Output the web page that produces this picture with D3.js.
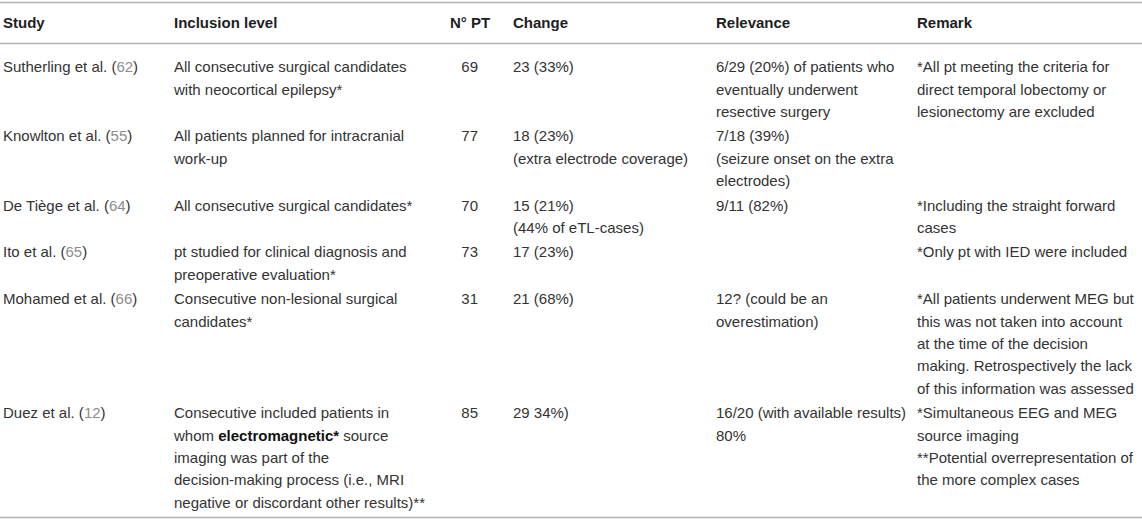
<!DOCTYPE html>
<html>
<head>
<meta charset="utf-8">
<script src="https://cdn.jsdelivr.net/npm/d3@7"></script>
<style>
  body { margin: 0; background: #fff; }
  svg { display: block; font-family: 'Liberation Sans', Arial, sans-serif; font-size: 15px; }
</style>
</head>
<body>
<svg width="1142" height="520"></svg>
<script>
// Table content, one array per column
const columns = ['Study', 'Inclusion level', 'N° PT', 'Change', 'Relevance', 'Remark']
const studies = ['Sutherling et al.', 'Knowlton et al.', 'De Tiège et al.', 'Ito et al.', 'Mohamed et al.', 'Duez et al.']
const refs = ['62', '55', '64', '65', '66', '12']
const inclusion = [
  ['All consecutive surgical candidates', 'with neocortical epilepsy*'],
  ['All patients planned for intracranial', 'work-up'],
  ['All consecutive surgical candidates*'],
  ['pt studied for clinical diagnosis and', 'preoperative evaluation*'],
  ['Consecutive non-lesional surgical', 'candidates*'],
  ['Consecutive included patients in', 'whom <b>electromagnetic*</b> source', 'imaging was part of the',
   'decision-making process (i.e., MRI', 'negative or discordant other results)**']
]
const patients = [69, 77, 70, 73, 31, 85]
const change = [
  ['23 (33%)'],
  ['18 (23%)', '(extra electrode coverage)'],
  ['15 (21%)', '(44% of eTL-cases)'],
  ['17 (23%)'],
  ['21 (68%)'],
  ['29 34%)']
]
const relevance = [
  ['6/29 (20%) of patients who', 'eventually underwent', 'resective surgery'],
  ['7/18 (39%)', '(seizure onset on the extra', 'electrodes)'],
  ['9/11 (82%)'],
  [],
  ['12? (could be an', 'overestimation)'],
  ['16/20 (with available results)', '80%']
]
const remark = [
  ['*All pt meeting the criteria for', 'direct temporal lobectomy or', 'lesionectomy are excluded'],
  [],
  ['*Including the straight forward', 'cases'],
  ['*Only pt with IED were included'],
  ['*All patients underwent MEG but', 'this was not taken into account', 'at the time of the decision',
   'making. Retrospectively the lack', 'of this information was assessed'],
  ['*Simultaneous EEG and MEG', 'source imaging', '**Potential overrepresentation of', 'the more complex cases']
]

const svg = d3.select('svg')
const width = 1142
const lineH = 22.4
const rowPad = 2 / lineH   // extra space between rows, in line units

// column positions
const x = d3.scaleOrdinal().domain(columns).range([3, 174, 478, 513, 716, 917])
// y works in "line units": 0 is the first body line
const y = d3.scaleLinear().domain([0, 1]).range([67, 67 + lineH])

// build rows, count lines so each row knows its height
const rows = studies.map((s, i) => ({
  cells: [
    [s + ' (<r>' + refs[i] + '</r>)'],
    inclusion[i],
    [String(patients[i])],
    change[i],
    relevance[i],
    remark[i]
  ]
}))
let offset = 0
rows.forEach(r => {
  r.n = d3.max(r.cells, c => c.length)
  r.start = offset
  offset += r.n + rowPad
})
const lastLine = rows[rows.length - 1].start + rows[rows.length - 1].n - 1

// horizontal rules
const ruleY = [2.5, 43.5, y(lastLine) + 15]
svg.selectAll('.rule')
  .data(ruleY)
  .enter()
  .append('line')
    .attr('class', 'rule')
    .attr('x1', 0)
    .attr('x2', width)
    .attr('y1', d => d)
    .attr('y2', d => d)
    .attr('stroke', '#b4b4b4')
    .attr('stroke-width', 1.5)

// header
svg.selectAll('.head')
  .data(columns)
  .enter()
  .append('text')
    .attr('class', 'head')
    .attr('x', d => d === 'N° PT' ? 470 : x(d))
    .attr('y', 22.7)
    .attr('dy', '0.35em')
    .attr('text-anchor', d => d === 'N° PT' ? 'middle' : 'start')
    .attr('font-weight', 'bold')
    .attr('fill', '#1e1e1e')
    .text(d => d)

// split a line into plain / bold / reference pieces
function pieces(str){
  const out = []
  const re = /<(b|r)>(.*?)<\/\1>/g
  let last = 0, m
  while ((m = re.exec(str)) !== null) {
    if (m.index > last) out.push({t: str.slice(last, m.index), k: ''})
    out.push({t: m[2], k: m[1]})
    last = re.lastIndex
  }
  if (last < str.length) out.push({t: str.slice(last), k: ''})
  return out
}

// body cells
const lines = []
rows.forEach(r => {
  r.cells.forEach((c, ci) => {
    c.forEach((txt, li) => lines.push({col: columns[ci], line: r.start + li, txt}))
  })
})

svg.selectAll('.cell')
  .data(lines)
  .enter()
  .append('text')
    .attr('class', 'cell')
    .attr('x', d => x(d.col))
    .attr('y', d => y(d.line))
    .attr('dy', '0.35em')
    .attr('text-anchor', d => d.col === 'N° PT' ? 'end' : 'start')
    .attr('fill', '#333')
  .selectAll('tspan')
  .data(d => pieces(d.txt))
  .enter()
  .append('tspan')
    .attr('font-weight', d => d.k === 'b' ? 'bold' : null)
    .attr('fill', d => d.k === 'r' ? '#8c8c8c' : d.k === 'b' ? '#111' : null)
    .text(d => d.t)
</script>
</body>
</html>
